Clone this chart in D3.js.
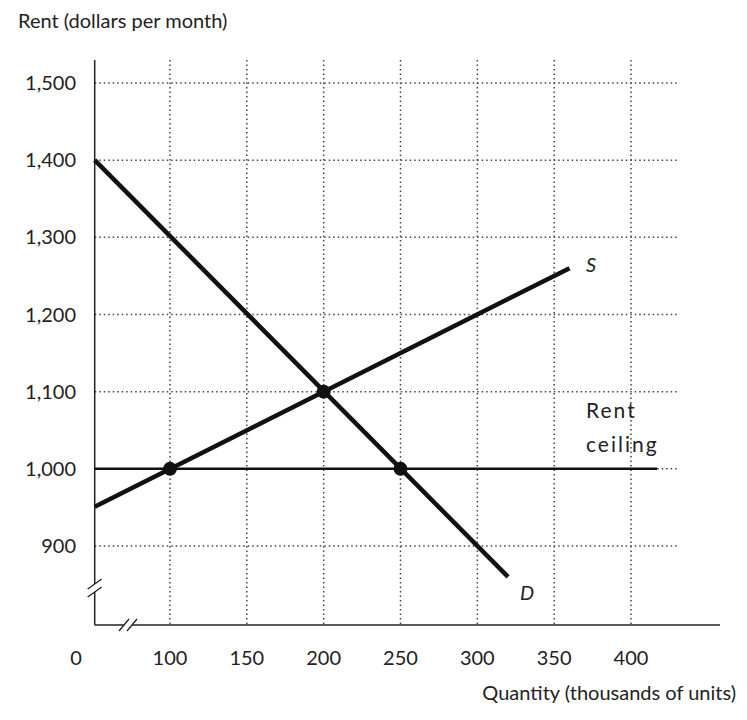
<!DOCTYPE html><html><head><meta charset="utf-8">
<script src="https://cdn.jsdelivr.net/npm/d3@7"></script>
<style>body{margin:0;background:#fff}text{font-family:Lato,"Open Sans",sans-serif;fill:#222}</style></head><body>
<svg id="c" width="747" height="720"></svg>
<script>
const xTicks=[100,150,200,250,300,350,400];
const yTicks=[900,1000,1100,1200,1300,1400,1500];
const demandQ=[51,320], demandP=[1400,860];
const supplyQ=[51,360], supplyP=[951,1260];
const ceilingQ=[51,417], ceilingP=[1000,1000];
const points=[[100,1000],[200,1100],[250,1000]];
const svg=d3.select("#c");
const x=d3.scaleLinear().domain([100,400]).range([170,631]);
const y=d3.scaleLinear().domain([900,1500]).range([546,83]);
const x0=x(51), yB=625, xR=x(430), yT=60;
const fmt=d3.format(",");
xTicks.forEach(t=>svg.append("line").attr("x1",x(t)).attr("x2",x(t)).attr("y1",yT).attr("y2",yB).attr("stroke","#444").attr("stroke-dasharray","1.5,3").attr("stroke-width",1.5));
yTicks.forEach(t=>svg.append("line").attr("x1",x0).attr("x2",xR).attr("y1",y(t)).attr("y2",y(t)).attr("stroke","#444").attr("stroke-dasharray","1.5,3").attr("stroke-width",1.5));
svg.append("line").attr("x1",x0).attr("x2",x0).attr("y1",yT).attr("y2",yB).attr("stroke","#222").attr("stroke-width",1.5);
svg.append("line").attr("x1",x0).attr("x2",720).attr("y1",yB).attr("y2",yB).attr("stroke","#222").attr("stroke-width",1.5);
svg.append("rect").attr("x",x0-8).attr("y",584).attr("width",16).attr("height",8).attr("fill","#fff");
[584,592].forEach(v=>svg.append("line").attr("x1",x0-7).attr("x2",x0+7).attr("y1",v+5).attr("y2",v-5).attr("stroke","#222").attr("stroke-width",1.3));
svg.append("rect").attr("x",124).attr("y",yB-8).attr("width",8).attr("height",16).attr("fill","#fff");
[124,132].forEach(v=>svg.append("line").attr("x1",v-5).attr("x2",v+5).attr("y1",yB+6).attr("y2",yB-6).attr("stroke","#222").attr("stroke-width",1.3));
xTicks.forEach(t=>svg.append("text").attr("x",x(t)).attr("y",665).attr("text-anchor","middle").attr("font-size",20).text(t));
svg.append("text").attr("x",76).attr("y",665).attr("text-anchor","middle").attr("font-size",20).text("0");
yTicks.forEach(t=>svg.append("text").attr("x",76).attr("y",y(t)+7).attr("text-anchor","end").attr("font-size",20).text(fmt(t)));
svg.append("text").attr("x",18).attr("y",28).attr("font-size",20).text("Rent (dollars per month)");
svg.append("text").attr("x",736).attr("y",700).attr("text-anchor","end").attr("font-size",20).text("Quantity (thousands of units)");
const line=(qs,ps,w)=>svg.append("line").attr("x1",x(qs[0])).attr("y1",y(ps[0])).attr("x2",x(qs[1])).attr("y2",y(ps[1])).attr("stroke","#111").attr("stroke-width",w);
line(ceilingQ,ceilingP,2.5);line(supplyQ,supplyP,4.5);line(demandQ,demandP,4.5);
points.forEach(p=>svg.append("circle").attr("cx",x(p[0])).attr("cy",y(p[1])).attr("r",7).attr("fill","#111"));
svg.append("text").attr("x",586).attr("y",272).attr("font-size",20).attr("font-style","italic").text("S");
svg.append("text").attr("x",520).attr("y",600).attr("font-size",20).attr("font-style","italic").text("D");
svg.append("text").attr("x",586).attr("y",418).attr("font-size",21).attr("letter-spacing",2).text("Rent");
svg.append("text").attr("x",586).attr("y",452).attr("font-size",21).attr("letter-spacing",2).text("ceiling");
</script></body></html>
